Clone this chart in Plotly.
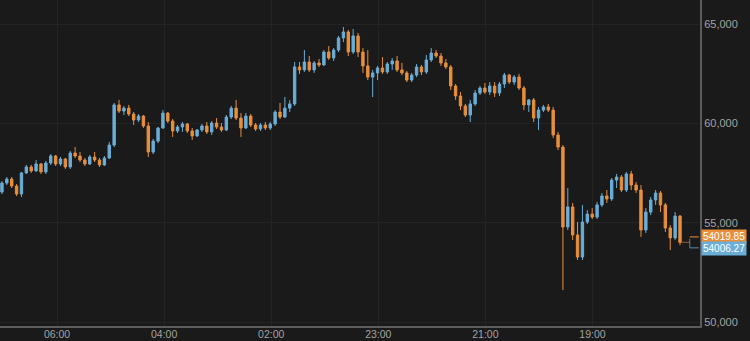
import plotly.graph_objects as go

# ---- data ----
opens = [56550, 57000, 57200, 56850, 56450, 57510, 57810, 57610, 57960, 57560,
         58010, 58360, 57960, 58210, 57810, 58510, 58360, 58160, 57960, 58310,
         58160, 57910, 58260, 58910, 60930, 60620, 60770, 60470, 60170, 60370,
         59870, 58560, 59110, 59770, 60520, 60120, 59620, 59820, 59970, 59620,
         59370, 59670, 59870, 59570, 60020, 59820, 59670, 60320, 60770, 60270,
         59770, 60370, 59920, 59720, 59920, 59770, 59970, 60570, 60320, 60770,
         60980, 62840, 62690, 63090, 62690, 63040, 62940, 63590, 63290, 63690,
         64300, 64600, 63590, 64400, 63590, 62890, 62330, 62540, 62790, 62590,
         62990, 63140, 62690, 62540, 62180, 62430, 62840, 62590, 63190, 63540,
         63390, 63040, 62840, 61880, 61380, 60880, 60420, 60980, 61530, 61780,
         61580, 61880, 61530, 61980, 62430, 62080, 62330, 61780, 60930, 61180,
         60270, 60670, 60830, 60670, 59420, 58810, 54790, 55800, 54390, 53280,
         55040, 55440, 55290, 55900, 56350, 56200, 57150, 57300, 56650, 57460,
         56900, 56650, 54640, 55540, 56150, 56500, 55900, 54740, 54240, 55340]
highs = [57100, 57300, 57300, 56950, 57560, 57910, 57910, 58160, 58010, 58110,
         58460, 58410, 58310, 58260, 58610, 58810, 58560, 58260, 58410, 58560,
         58260, 58360, 59060, 61030, 61180, 60880, 60930, 60570, 60470, 60420,
         60070, 59220, 59820, 60670, 60570, 60220, 59920, 60070, 60020, 59770,
         59720, 59970, 60070, 60120, 60270, 60020, 60420, 60880, 61180, 60520,
         60520, 60470, 60020, 60020, 60070, 60070, 60670, 61030, 61330, 61180,
         63090, 63090, 63690, 63390, 63140, 63240, 63690, 63890, 63790, 64400,
         64850, 64700, 64750, 64550, 63790, 63690, 62690, 62890, 63340, 63090,
         63290, 63390, 63040, 62640, 62540, 62990, 62940, 63440, 63790, 63690,
         63540, 63240, 62940, 61980, 61580, 60980, 61180, 61680, 61880, 62030,
         62080, 62080, 62080, 62540, 62490, 62430, 62490, 61880, 61230, 61280,
         60830, 60930, 60980, 60830, 59570, 58910, 56750, 56000, 55040, 55900,
         55640, 55740, 56050, 56500, 56650, 57250, 57460, 57400, 57560, 57610,
         57050, 56900, 55740, 56300, 56650, 56600, 56000, 54890, 55540, 55390]
lows = [56450, 56900, 56750, 56350, 56300, 57460, 57510, 57560, 57460, 57460,
        57910, 57860, 57860, 57710, 57710, 58260, 58060, 57860, 57910, 58060,
        57810, 57860, 58210, 58810, 60520, 60420, 60370, 59920, 60070, 59770,
        58310, 58460, 59010, 59720, 60020, 59320, 59520, 59570, 59520, 59170,
        59320, 59570, 59470, 59420, 59720, 59570, 59620, 60220, 60170, 59320,
        59720, 59820, 59620, 59620, 59670, 59670, 59870, 60220, 60270, 60570,
        60880, 62490, 62590, 62590, 62540, 62840, 62890, 63190, 63140, 63590,
        64090, 63390, 63490, 63340, 62540, 62180, 61330, 62180, 62490, 62490,
        62690, 62590, 62430, 62080, 62080, 62330, 62430, 62490, 63090, 63290,
        62890, 62740, 61680, 61180, 60670, 60320, 60070, 60880, 61430, 61480,
        61430, 61330, 61380, 61780, 61980, 61930, 61680, 60670, 60570, 60070,
        59670, 60570, 60570, 59270, 58660, 51620, 54640, 54140, 53130, 53130,
        54940, 55190, 55190, 55800, 56000, 56100, 56750, 56550, 56550, 56650,
        56500, 54290, 54490, 55390, 55900, 55540, 54540, 53630, 54140, 53880]
closes = [57000, 57200, 56850, 56450, 57510, 57810, 57610, 57960, 57560, 58010,
          58360, 57960, 58210, 57810, 58510, 58360, 58160, 57960, 58310, 58160,
          57910, 58260, 58910, 60930, 60620, 60770, 60470, 60170, 60370, 59870,
          58560, 59110, 59770, 60520, 60120, 59620, 59820, 59970, 59620, 59370,
          59670, 59870, 59570, 60020, 59820, 59670, 60320, 60770, 60270, 59770,
          60370, 59920, 59720, 59920, 59770, 59970, 60570, 60320, 60770, 60980,
          62840, 62690, 63090, 62690, 63040, 62940, 63590, 63290, 63690, 64300,
          64600, 63590, 64400, 63590, 62890, 62330, 62540, 62790, 62590, 62990,
          63140, 62690, 62540, 62180, 62430, 62840, 62590, 63190, 63540, 63390,
          63040, 62840, 61880, 61380, 60880, 60420, 60980, 61530, 61780, 61580,
          61880, 61530, 61980, 62430, 62080, 62330, 61780, 60930, 61180, 60270,
          60670, 60830, 60670, 59420, 58810, 54790, 55800, 54390, 53280, 55040,
          55440, 55290, 55900, 56350, 56200, 57150, 57300, 56650, 57460, 56900,
          56650, 54640, 55540, 56150, 56500, 55900, 54740, 54240, 55340, 54020]

tick_labels = ["06:00", "04:00", "02:00", "23:00", "21:00", "19:00"]
y_ticks = [50000, 55000, 60000, 65000]
last_prices = [54019.85, 54006.27]

# ---- styling ----
BG = "#1a1a1a"
GRID = "#242424"
AXIS = "#5c5c5c"
TXT = "#a3a3a3"
BLUE = "#6aaed8"
ORANGE = "#e98f3c"
FONT = "Liberation Sans, Arial, sans-serif"

n = len(closes)
idx = list(range(n))

fig = go.Figure()
fig.add_trace(go.Candlestick(
    x=idx, open=opens, high=highs, low=lows, close=closes,
    increasing=dict(line=dict(color=BLUE, width=1), fillcolor=BLUE),
    decreasing=dict(line=dict(color=ORANGE, width=1), fillcolor=ORANGE),
    whiskerwidth=0, showlegend=False, hoverinfo="skip",
))

x_end = n + 3.1
tick_first = 11.3
tick_step = 21.95
tickvals = [tick_first + k * tick_step for k in range(len(tick_labels))]

# dashed leader bracket to the last-price labels
last_x = n - 1
shapes = [
    dict(type="line", xref="x", yref="y", x0=last_x + 0.2, x1=last_x + 2.0,
         y0=closes[-1], y1=closes[-1], line=dict(color="#8a5f36", width=1, dash="dash")),
    dict(type="line", xref="x", yref="y", x0=last_x + 2.0, x1=last_x + 2.0,
         y0=53740, y1=54290, line=dict(color="#5f7f95", width=1, dash="dash")),
    dict(type="line", xref="x", yref="y", x0=last_x + 2.0, x1=x_end,
         y0=54290, y1=54290, line=dict(color=ORANGE, width=1, dash="dash")),
    dict(type="line", xref="x", yref="y", x0=last_x + 2.0, x1=x_end,
         y0=53740, y1=53740, line=dict(color="#5f8fb0", width=1, dash="dash")),
]

annotations = [
    dict(xref="paper", yref="y", x=1.0, y=last_prices[0], xanchor="left", yanchor="middle",
         text=f"{last_prices[0]:.2f}", showarrow=False, bgcolor=ORANGE, borderpad=1,
         font=dict(color="#ffffff", size=10, family=FONT), yshift=6, xshift=1),
    dict(xref="paper", yref="y", x=1.0, y=last_prices[1], xanchor="left", yanchor="middle",
         text=f"{last_prices[1]:.2f}", showarrow=False, bgcolor=BLUE, borderpad=1,
         font=dict(color="#ffffff", size=10, family=FONT), yshift=-6, xshift=1),
]

fig.update_layout(
    width=750, height=341,
    margin=dict(l=0, r=50, t=0, b=15, autoexpand=False),
    paper_bgcolor=BG, plot_bgcolor=BG,
    font=dict(family=FONT, color=TXT, size=10),
    shapes=shapes, annotations=annotations,
    xaxis=dict(
        range=[-0.4, x_end], rangeslider=dict(visible=False),
        tickmode="array", tickvals=tickvals, ticktext=tick_labels,
        showgrid=True, gridcolor=GRID, gridwidth=1, zeroline=False,
        showline=True, linecolor=AXIS, linewidth=2, ticks="",
        ticklabelstandoff=-3,
        tickfont=dict(color=TXT, size=10.5, family=FONT),
    ),
    yaxis=dict(
        side="right", range=[49810, 66207],
        tickmode="array", tickvals=y_ticks, tickformat=",",
        showgrid=True, gridcolor=GRID, gridwidth=1, zeroline=False,
        showline=True, linecolor=AXIS, linewidth=2, ticks="",
        tickfont=dict(color=TXT, size=11, family=FONT),
    ),
)

fig.write_html("out.html")
